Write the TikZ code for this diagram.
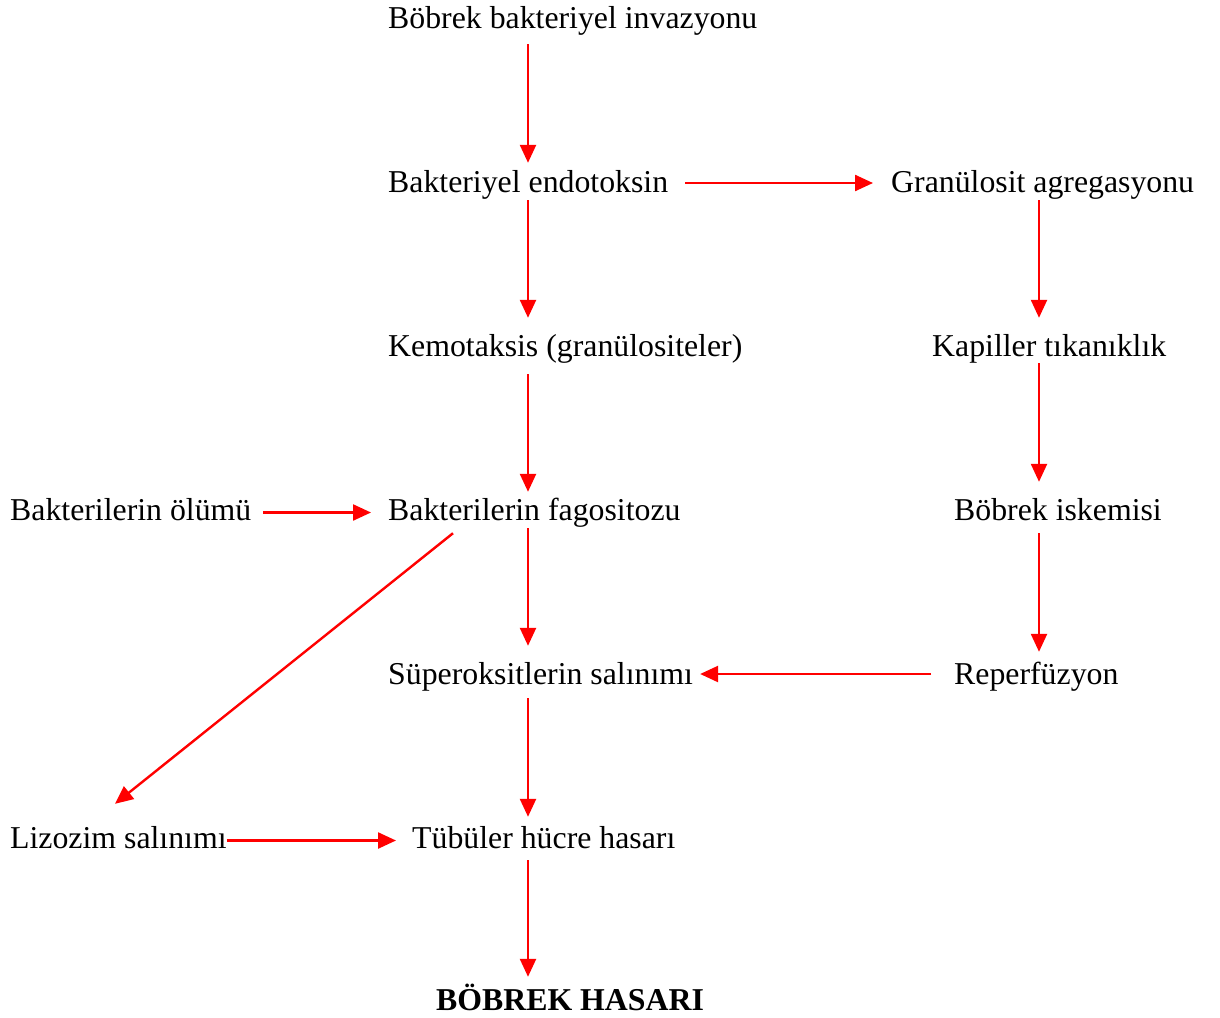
\documentclass[tikz,border=0pt]{standalone}
\usepackage{fontspec}
\setmainfont{Liberation Serif}
\usetikzlibrary{arrows.meta,calc}
\begin{document}
\begin{tikzpicture}[x=1pt,y=-1pt,
  lbl/.style={anchor=base west,inner sep=0pt,text height=22pt,text depth=7pt,font=\fontsize{31.8}{38}\selectfont},
  arr/.style={draw=red,line width=2.4pt,-{Triangle[length=18pt,width=16pt]}}]
\useasboundingbox (0,0) rectangle (1220,1017);
\coordinate (cA) at (528,0);
\coordinate (cB) at (1039,0);
\coordinate (d1) at (453,0);
\coordinate (d2) at (115,0);
\node[lbl] (n1) at (388,28) {Böbrek bakteriyel invazyonu};
\node[lbl] (n2) at (388,192) {Bakteriyel endotoksin};
\node[lbl] (n3) at (891,192) {Granülosit agregasyonu};
\node[lbl] (n4) at (388,356) {Kemotaksis (granülositeler)};
\node[lbl] (n5) at (932,356) {Kapiller tıkanıklık};
\node[lbl] (n6) at (10,520) {Bakterilerin ölümü};
\node[lbl] (n7) at (388,520) {Bakterilerin fagositozu};
\node[lbl] (n8) at (954,520) {Böbrek iskemisi};
\node[lbl] (n9) at (388,684) {Süperoksitlerin salınımı};
\node[lbl] (n10) at (954,684) {Reperfüzyon};
\node[lbl] (n11) at (10,848) {Lizozim salınımı};
\node[lbl] (n12) at (412,848) {Tübüler hücre hasarı};
\node[lbl,font=\fontsize{31.8}{38}\selectfont\bfseries] (n13) at (436,1010) {BÖBREK HASARI};
\draw[arr,shorten <=9pt,shorten >=7pt] (n1.south -| cA) -- (n2.north -| cA);
\draw[arr,shorten <=17pt,shorten >=18pt] ([yshift=1.5pt]n2.east) -- ([yshift=1.5pt]n3.west);
\draw[arr,shorten <=1pt,shorten >=16pt] (n2.south -| cA) -- (n4.north -| cA);
\draw[arr,shorten <=1pt,shorten >=16pt] (n3.south -| cB) -- (n5.north -| cB);
\draw[arr,shorten <=11pt,shorten >=6pt] (n4.south -| cA) -- (n7.north -| cA);
\draw[arr,shorten <=0pt,shorten >=16pt] (n5.south -| cB) -- (n8.north -| cB);
\draw[arr,shorten <=12pt,shorten >=17pt] (n6.east) -- (n7.west);
\draw[arr,shorten <=1pt,shorten >=16pt] (n7.south -| cA) -- (n9.north -| cA);
\draw[arr] ($(n7.south -| d1)+(0,6)$) -- ($(n11.north -| d2)+(0,-22)$);
\draw[arr,shorten <=6pt,shorten >=10pt] (n8.south -| cB) -- (n10.north -| cB);
\draw[arr,shorten <=23pt,shorten >=7pt] ([yshift=2.5pt]n10.west) -- ([yshift=2.5pt]n10.west -| n9.east);
\draw[arr,shorten <=7pt,shorten >=9pt] (n9.south -| cA) -- (n12.north -| cA);
\draw[arr,shorten <=0pt,shorten >=16pt] (n11.east) -- (n12.west);
\draw[arr,shorten <=5pt,shorten >=11pt] (n12.south -| cA) -- (n13.north -| cA);
\end{tikzpicture}
\end{document}
